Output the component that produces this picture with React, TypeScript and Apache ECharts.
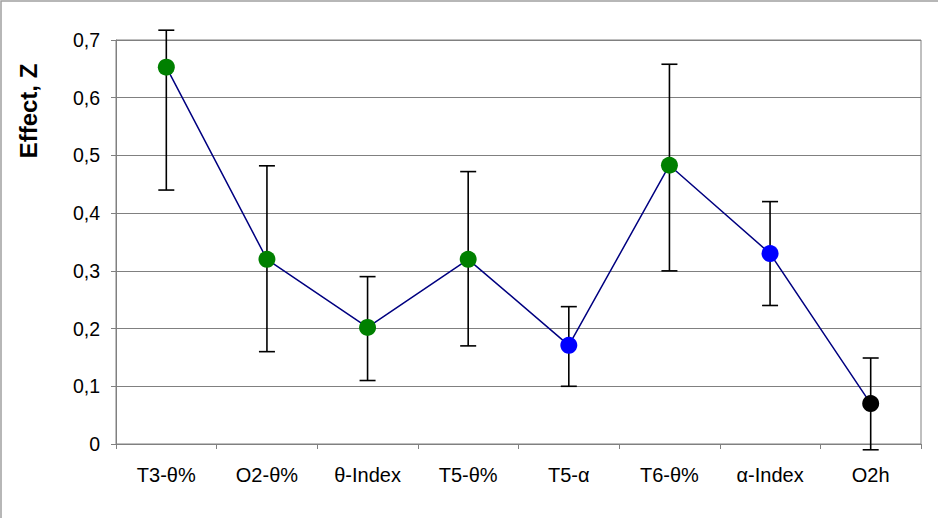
import React, { useEffect, useRef } from "react";
import * as echarts from "echarts";

const categories = ["T3-θ%", "O2-θ%", "θ-Index", "T5-θ%", "T5-α", "T6-θ%", "α-Index", "O2h"];
const effects = [0.653, 0.32, 0.202, 0.32, 0.171, 0.483, 0.33, 0.07];
const lowerBounds = [0.44, 0.16, 0.11, 0.17, 0.1, 0.3, 0.24, -0.01];
const upperBounds = [0.717, 0.482, 0.29, 0.472, 0.238, 0.658, 0.42, 0.149];
const pointColors = ["#008000", "#008000", "#008000", "#008000", "#0000ff", "#008000", "#0000ff", "#000000"];

export default function App() {
  const ref = useRef<HTMLDivElement>(null);
  useEffect(() => {
    if (!ref.current) return;
    const chart = echarts.init(ref.current, null, { renderer: "svg" });
    const font = "'Liberation Sans', Arial, sans-serif";
    chart.setOption({
      animation: false,
      backgroundColor: "#ffffff",
      textStyle: { fontFamily: font },
      graphic: [
        {
          type: "rect",
          shape: { x: 1, y: 1, width: 960, height: 540 },
          style: { fill: "none", stroke: "#a0a0a0", lineWidth: 1.5 },
          silent: true,
          z: 0,
        },
        {
          type: "text",
          x: 28,
          y: 111,
          rotation: Math.PI / 2,
          style: {
            text: "Effect, Z",
            font: `bold 24px ${font}`,
            fill: "#000",
            textAlign: "center",
            textVerticalAlign: "middle",
          },
        },
      ],
      grid: {
        left: 116,
        top: 40,
        right: 17,
        bottom: 74,
        show: true,
        borderColor: "#808080",
        borderWidth: 1,
      },
      xAxis: {
        type: "category",
        data: categories,
        boundaryGap: true,
        axisLine: { lineStyle: { color: "#808080", width: 1 } },
        axisTick: { show: true, length: 5, lineStyle: { color: "#808080" } },
        axisLabel: { color: "#000", fontSize: 20, margin: 21, fontFamily: font },
        splitLine: { show: false },
      },
      yAxis: {
        type: "value",
        min: 0,
        max: 0.7,
        interval: 0.1,
        axisLine: { show: true, lineStyle: { color: "#808080", width: 1 } },
        axisTick: { show: true, length: 5, lineStyle: { color: "#808080" } },
        axisLabel: {
          color: "#000",
          fontSize: 19.5,
          margin: 16,
          fontFamily: font,
          formatter: (v: number) => (Math.round(v * 10) / 10).toString().replace(".", ","),
        },
        splitLine: { show: true, lineStyle: { color: "#808080", width: 1 } },
      },
      series: [
        {
          type: "custom",
          clip: false,
          z: 3,
          data: categories.map((c, i) => [i, lowerBounds[i], upperBounds[i]]),
          renderItem: (params: any, api: any) => {
            const x = api.value(0);
            const lo = api.coord([x, api.value(1)]);
            const hi = api.coord([x, api.value(2)]);
            const hw = 8;
            const st = { stroke: "#000", lineWidth: 1.6 };
            return {
              type: "group",
              children: [
                { type: "line", shape: { x1: lo[0], y1: lo[1], x2: hi[0], y2: hi[1] }, style: st },
                { type: "line", shape: { x1: lo[0] - hw, y1: lo[1], x2: lo[0] + hw, y2: lo[1] }, style: st },
                { type: "line", shape: { x1: hi[0] - hw, y1: hi[1], x2: hi[0] + hw, y2: hi[1] }, style: st },
              ],
            };
          },
        },
        {
          type: "line",
          data: effects.map((v, i) => ({ value: v, itemStyle: { color: pointColors[i] } })),
          z: 4,
          symbol: "circle",
          symbolSize: 17,
          lineStyle: { color: "#000080", width: 1.5 },
          itemStyle: { borderWidth: 0 },
        },
      ],
    });
    return () => chart.dispose();
  }, []);
  return (
    <div
      ref={ref}
      style={{ position: "fixed", left: 0, top: 0, width: 938, height: 518 }}
    />
  );
}
